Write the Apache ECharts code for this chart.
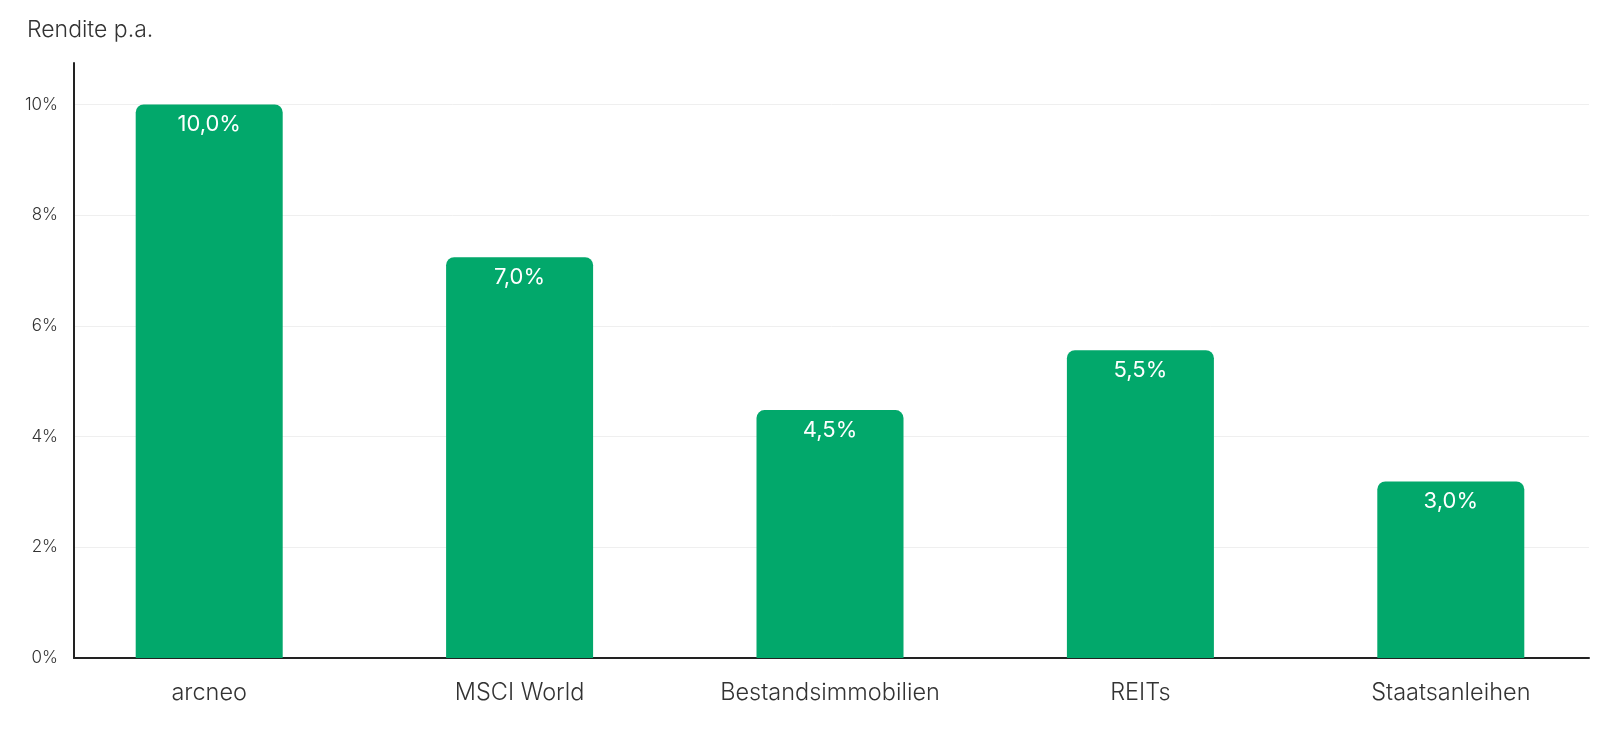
<!DOCTYPE html>
<html>
<head>
<meta charset="utf-8">
<script src="https://cdn.jsdelivr.net/npm/echarts@6/dist/echarts.min.js"></script>
<style>
html,body{margin:0;padding:0;background:#fff;}
#c{width:1606px;height:730px;}
</style>
</head>
<body>
<div id="c"></div>
<script>
const categories = ['arcneo', 'MSCI World', 'Bestandsimmobilien', 'REITs', 'Staatsanleihen'];
const barValues = [10.0, 7.24, 4.48, 5.56, 3.19];
const barLabels = ['10,0%', '7,0%', '4,5%', '5,5%', '3,0%'];
const yTicks = [0, 2, 4, 6, 8, 10];
const yMax = 10.75;

const FONT = 'Inter, "Noto Sans", sans-serif';
const chart = echarts.init(document.getElementById('c'), null, {renderer: 'canvas'});

chart.setOption({
  backgroundColor: '#ffffff',
  animation: false,
  title: {
    text: 'Rendite p.a.',
    left: 22, top: 14,
    textStyle: {fontFamily: FONT, fontSize: 23, fontWeight: 300, color: '#333'}
  },
  grid: [
    {left: 54, right: -6, top: 63, bottom: 72, containLabel: false},
    {left: 74, right: 17, top: 63, bottom: 72, containLabel: false}
  ],
  xAxis: [
    {
      type: 'category', gridIndex: 0, data: categories,
      axisLine: {show: false}, axisTick: {show: false},
      axisLabel: {fontFamily: FONT, fontSize: 23.5, fontWeight: 300, color: '#333', margin: 23}
    },
    {
      type: 'category', gridIndex: 1, data: categories,
      axisLine: {show: true, lineStyle: {color: '#222', width: 2}},
      axisTick: {show: false}, axisLabel: {show: false}
    }
  ],
  yAxis: [
    {
      type: 'value', gridIndex: 0, min: 0, max: yMax,
      show: false, splitLine: {show: false}
    },
    {
      type: 'value', gridIndex: 1, min: 0, max: yMax, interval: 2,
      axisLine: {show: true, lineStyle: {color: '#222', width: 2}},
      axisTick: {show: false},
      axisLabel: {
        fontFamily: FONT, fontSize: 17, fontWeight: 300, color: '#333', margin: 16,
        showMaxLabel: false,
        formatter: v => yTicks.includes(v) ? v + '%' : ''
      },
      splitLine: {show: true, showMaxLine: false, lineStyle: {color: '#efefef', width: 1}}
    }
  ],
  series: [{
    type: 'bar', xAxisIndex: 0, yAxisIndex: 0,
    data: barValues, barWidth: 147,
    itemStyle: {color: '#02a86b', borderRadius: [8, 8, 0, 0]},
    label: {
      show: true, position: 'insideTop', distance: 9,
      fontFamily: FONT, fontSize: 22, fontWeight: 400, color: '#fff',
      formatter: p => barLabels[p.dataIndex]
    }
  }]
});
</script>
</body>
</html>
